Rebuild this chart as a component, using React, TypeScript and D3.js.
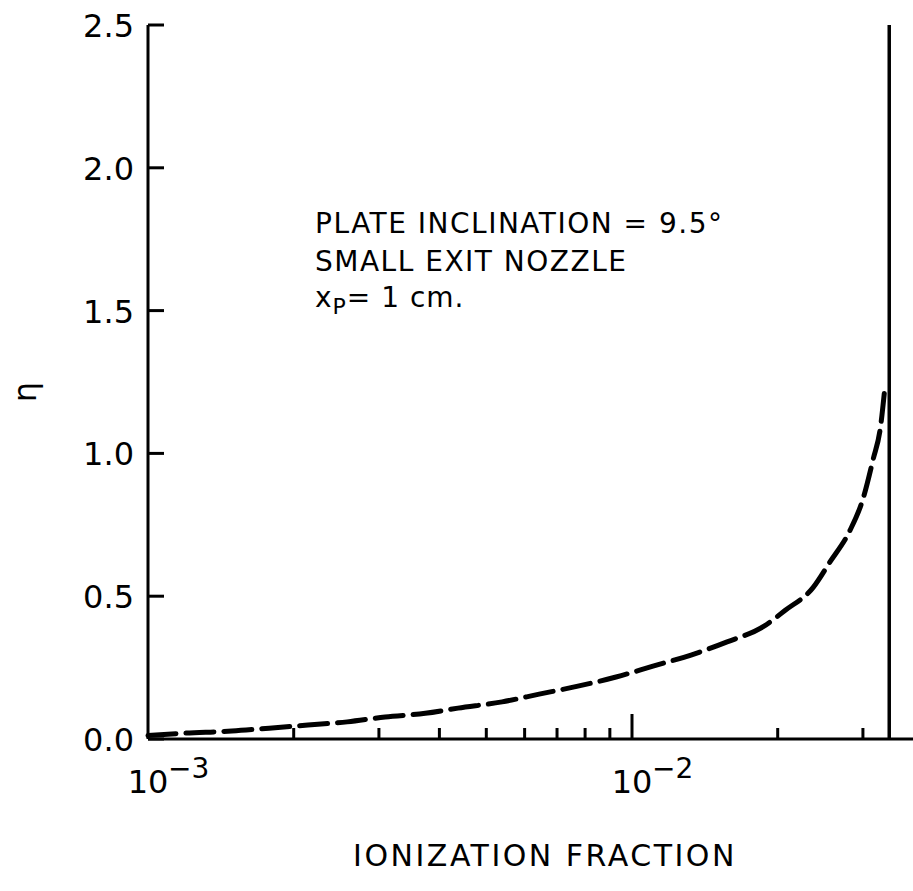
import React from "react";
import * as d3 from "d3";

// Efficiency η versus ionization fraction (dashed curve)
const ionization = [
  0.001, 0.00118, 0.00149, 0.00178, 0.00214, 0.00258, 0.00309, 0.00374,
  0.00437, 0.00539, 0.00643, 0.00773, 0.00927, 0.01105, 0.01324, 0.01572,
  0.01874, 0.0207, 0.02366, 0.02565, 0.0282, 0.03, 0.0315, 0.0326, 0.0333,
];
const eta = [
  0.012, 0.02, 0.028, 0.038, 0.049, 0.06, 0.077, 0.09, 0.108, 0.13, 0.157,
  0.185, 0.217, 0.255, 0.294, 0.34, 0.395, 0.45, 0.53, 0.62, 0.73, 0.84, 0.98,
  1.09, 1.23,
];

// Limiting ionization fraction (vertical line)
const limitFraction = 0.034;

const yTicks = [0, 0.5, 1.0, 1.5, 2.0, 2.5];
const yTickLabels = ["0.0", "0.5", "1.0", "1.5", "2.0", "2.5"];
const xDecades = [0.001, 0.01];
const xDecadeExponents = ["−3", "−2"];
const xMinorTicks = [0.002, 0.003, 0.004, 0.005, 0.006, 0.007, 0.008, 0.009, 0.02, 0.03];

const annotation = ["PLATE INCLINATION = 9.5°", "SMALL EXIT NOZZLE"];

const W = 913;
const H = 891;
const FONT = "'DejaVu Sans', sans-serif";

export default function App() {
  const x = d3.scaleLog().domain([1e-3, 1e-2]).range([148, 632]);
  const y = d3.scaleLinear().domain([0, 2.5]).range([739, 25]);
  const axisRight = W;

  const pts: [number, number][] = ionization.map((v, i) => [v, eta[i]]);
  const line = d3
    .line<[number, number]>()
    .x((d) => x(d[0]))
    .y((d) => y(d[1]))
    .curve(d3.curveMonotoneX);

  const x0 = x(1e-3);
  const y0 = y(0);

  return (
    <svg
      width={W}
      height={H}
      viewBox={`0 0 ${W} ${H}`}
      style={{ position: "absolute", left: 0, top: 0, background: "#fff" }}
    >
      <rect x={0} y={0} width={W} height={H} fill="#fff" />
      {/* axes */}
      <line x1={x0} y1={y(2.5)} x2={x0} y2={y0} stroke="#000" strokeWidth={3} />
      <line x1={x0} y1={y0} x2={axisRight} y2={y0} stroke="#000" strokeWidth={3} />

      {/* y ticks */}
      {yTicks.map((t, i) => (
        <g key={`yt${i}`}>
          <line x1={x0} x2={x0 + 16} y1={y(t)} y2={y(t)} stroke="#000" strokeWidth={3} />
          <text
            x={134}
            y={y(t) + 12}
            textAnchor="end"
            fontFamily={FONT}
            fontSize={32}
            fill="#000"
          >
            {yTickLabels[i]}
          </text>
        </g>
      ))}

      {/* x ticks */}
      {xMinorTicks.map((t, i) => (
        <line key={`xm${i}`} x1={x(t)} x2={x(t)} y1={y0} y2={y0 - 11} stroke="#000" strokeWidth={3} />
      ))}
      <line x1={x(0.01)} x2={x(0.01)} y1={y0} y2={y0 - 25} stroke="#000" strokeWidth={3} />
      {xDecades.map((t, i) => (
        <g key={`xl${i}`}>
          <text x={x(t)} y={793} textAnchor="middle" fontFamily={FONT} fontSize={32} fill="#000">
            10
          </text>
          <text x={x(t) + 20} y={778} textAnchor="start" fontFamily={FONT} fontSize={28} fill="#000">
            {xDecadeExponents[i]}
          </text>
        </g>
      ))}

      {/* limiting fraction */}
      <line
        x1={x(limitFraction)}
        x2={x(limitFraction)}
        y1={y(2.5)}
        y2={y0}
        stroke="#000"
        strokeWidth={3.5}
      />

      {/* curve */}
      <path
        d={line(pts) || ""}
        fill="none"
        stroke="#000"
        strokeWidth={5}
        strokeDasharray="28 10"
        strokeLinecap="round"
      />

      {/* annotation */}
      {annotation.map((s, i) => (
        <text
          key={`an${i}`}
          x={315}
          y={233 + i * 38}
          fontFamily={FONT}
          fontSize={28}
          letterSpacing={1.5}
          fill="#000"
        >
          {s}
        </text>
      ))}
      <text x={315} y={307} fontFamily={FONT} fontSize={28} letterSpacing={1} fill="#000">
        x
        <tspan fontSize={22} dy={7}>P</tspan>
        <tspan fontSize={28} dy={-7}>= 1 cm.</tspan>
      </text>

      {/* axis titles */}
      <text
        x={545}
        y={866}
        textAnchor="middle"
        fontFamily={FONT}
        fontSize={30}
        letterSpacing={2.5}
        fill="#000"
      >
        IONIZATION FRACTION
      </text>
      <text
        transform="translate(36,392) rotate(-90)"
        textAnchor="middle"
        fontFamily={FONT}
        fontSize={32}
        fill="#000"
      >
        η
      </text>
    </svg>
  );
}
